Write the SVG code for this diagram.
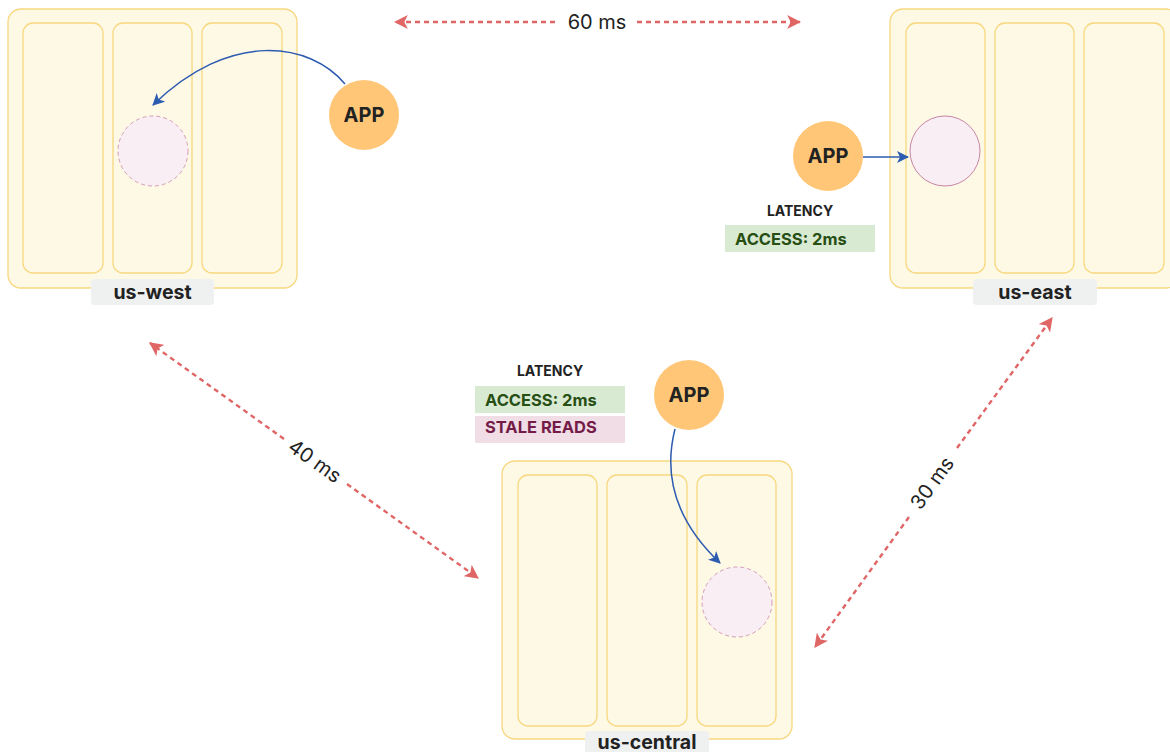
<svg xmlns="http://www.w3.org/2000/svg" width="1170" height="752" viewBox="0 0 1170 752">
  <defs>
    <style>
      .region { fill: #fdf9e5; stroke: #f8d77f; stroke-width: 1.3; }
      .zone { fill: #fdf9e5; stroke: #f8d77f; stroke-width: 1.3; }
      .pill { fill: #eff0f0; }
      .pill-text { font-family: Inter, "Liberation Sans", sans-serif; font-weight: 700; font-size: 19.5px; fill: #222; text-anchor: middle; }
      .app { fill: #ffc677; }
      .app-text { font-family: Inter, "Liberation Sans", sans-serif; font-weight: 700; font-size: 20px; fill: #222; text-anchor: middle; }
      .replica-dashed { fill: #f8eef3; stroke: #d49bbb; stroke-width: 1; stroke-dasharray: 4 3; }
      .replica { fill: #f8eef3; stroke: #c785a6; stroke-width: 1; }
      .lat-title { font-family: Inter, "Liberation Sans", sans-serif; font-weight: 700; font-size: 14px; fill: #222; text-anchor: middle; }
      .access-box { fill: #d9ead3; }
      .access-text { font-family: Inter, "Liberation Sans", sans-serif; font-weight: 700; font-size: 16.5px; fill: #274e13; }
      .stale-box { fill: #f0dde5; }
      .stale-text { font-family: Inter, "Liberation Sans", sans-serif; font-weight: 700; font-size: 16.5px; fill: #741b47; }
      .link { fill: none; stroke: #e06666; stroke-width: 2.4; stroke-dasharray: 5 4; }
      .link-text { font-family: Inter, "Liberation Sans", sans-serif; font-size: 20px; fill: #222; text-anchor: middle; }
      .req { fill: none; stroke: #2d5bb0; stroke-width: 1.5; }
    </style>
    <marker id="redHead" viewBox="0 0 12 12" refX="11" refY="6" markerWidth="14" markerHeight="14" markerUnits="userSpaceOnUse" orient="auto-start-reverse">
      <path d="M0,0 L12,6 L0,12 L3,6 Z" fill="#e06666"/>
    </marker>
    <marker id="blueHead" viewBox="0 0 12 12" refX="11" refY="6" markerWidth="12" markerHeight="12" markerUnits="userSpaceOnUse" orient="auto">
      <path d="M0,0 L12,6 L0,12 L3,6 Z" fill="#2d5bb0"/>
    </marker>
  </defs>

  <rect width="1170" height="752" fill="#ffffff"/>

  <!-- us-west region -->
  <g id="us-west">
    <rect class="region" x="8" y="9" width="289" height="279" rx="13"/>
    <rect class="zone" x="23" y="23" width="80" height="250" rx="10"/>
    <rect class="zone" x="113" y="23" width="79" height="250" rx="10"/>
    <rect class="zone" x="202" y="23" width="80" height="250" rx="10"/>
    <rect class="pill" x="91" y="279" width="123" height="26" rx="4"/>
    <text class="pill-text" x="152.5" y="299">us-west</text>
  </g>
  <g id="us-west-replica">
    <circle class="replica-dashed" cx="153" cy="151" r="35"/>
  </g>
  <g id="us-west-app">
    <circle class="app" cx="364" cy="115" r="35"/>
    <text class="app-text" x="364" y="122">APP</text>
  </g>

  <!-- us-east region -->
  <g id="us-east">
    <rect class="region" x="890" y="9" width="289" height="279" rx="13"/>
    <rect class="zone" x="906" y="23" width="79" height="250" rx="10"/>
    <rect class="zone" x="995" y="23" width="79" height="250" rx="10"/>
    <rect class="zone" x="1084" y="23" width="80" height="250" rx="10"/>
    <rect class="pill" x="973" y="279" width="124" height="26" rx="4"/>
    <text class="pill-text" x="1035" y="299">us-east</text>
  </g>
  <g id="us-east-replica">
    <circle class="replica" cx="945" cy="151" r="35"/>
  </g>
  <g id="us-east-app">
    <circle class="app" cx="828" cy="156" r="35"/>
    <text class="app-text" x="828" y="163">APP</text>
  </g>
  <g id="us-east-latency">
    <text class="lat-title" x="800" y="216">LATENCY</text>
    <rect class="access-box" x="725" y="225" width="150" height="27"/>
    <text class="access-text" x="735" y="245">ACCESS: 2ms</text>
  </g>

  <!-- us-central region -->
  <g id="us-central">
    <rect class="region" x="502" y="461" width="290" height="278" rx="13"/>
    <rect class="zone" x="518" y="475" width="79" height="251" rx="10"/>
    <rect class="zone" x="607" y="475" width="80" height="251" rx="10"/>
    <rect class="zone" x="697" y="475" width="79" height="251" rx="10"/>
    <rect class="pill" x="585" y="731" width="124" height="30" rx="4"/>
    <text class="pill-text" x="647" y="749">us-central</text>
  </g>
  <g id="us-central-replica">
    <circle class="replica-dashed" cx="737" cy="602" r="35"/>
  </g>
  <g id="us-central-app">
    <circle class="app" cx="689" cy="395" r="35"/>
    <text class="app-text" x="689" y="402">APP</text>
  </g>
  <g id="us-central-latency">
    <text class="lat-title" x="550" y="376">LATENCY</text>
    <rect class="access-box" x="475" y="386" width="150" height="27"/>
    <text class="access-text" x="485" y="406">ACCESS: 2ms</text>
    <rect class="stale-box" x="475" y="416" width="150" height="27"/>
    <text class="stale-text" x="485" y="433">STALE READS</text>
  </g>

  <!-- connectors -->
  <g id="connectors">
    <!-- inter-region latency links -->
    <line class="link" x1="555" y1="22" x2="395" y2="22" marker-end="url(#redHead)"/>
    <line class="link" x1="637" y1="22" x2="800" y2="22" marker-end="url(#redHead)"/>
    <text class="link-text" x="597" y="29">60 ms</text>

    <line class="link" x1="284" y1="439" x2="150" y2="343" marker-end="url(#redHead)"/>
    <line class="link" x1="347" y1="484" x2="478" y2="578" marker-end="url(#redHead)"/>
    <text class="link-text" transform="translate(315 461) rotate(35.6)" y="7">40 ms</text>

    <line class="link" x1="957" y1="448" x2="1052" y2="318" marker-end="url(#redHead)"/>
    <line class="link" x1="909" y1="517" x2="815" y2="647" marker-end="url(#redHead)"/>
    <text class="link-text" transform="translate(932 483) rotate(-54.2)" y="7">30 ms</text>

    <!-- app to replica requests -->
    <path class="req" d="M345,84 C310,42 230,30 153,105" marker-end="url(#blueHead)"/>
    <path class="req" d="M863,157 L908,157" marker-end="url(#blueHead)"/>
    <path class="req" d="M675,429 C662,480 680,525 720,563" marker-end="url(#blueHead)"/>
  </g>
</svg>
